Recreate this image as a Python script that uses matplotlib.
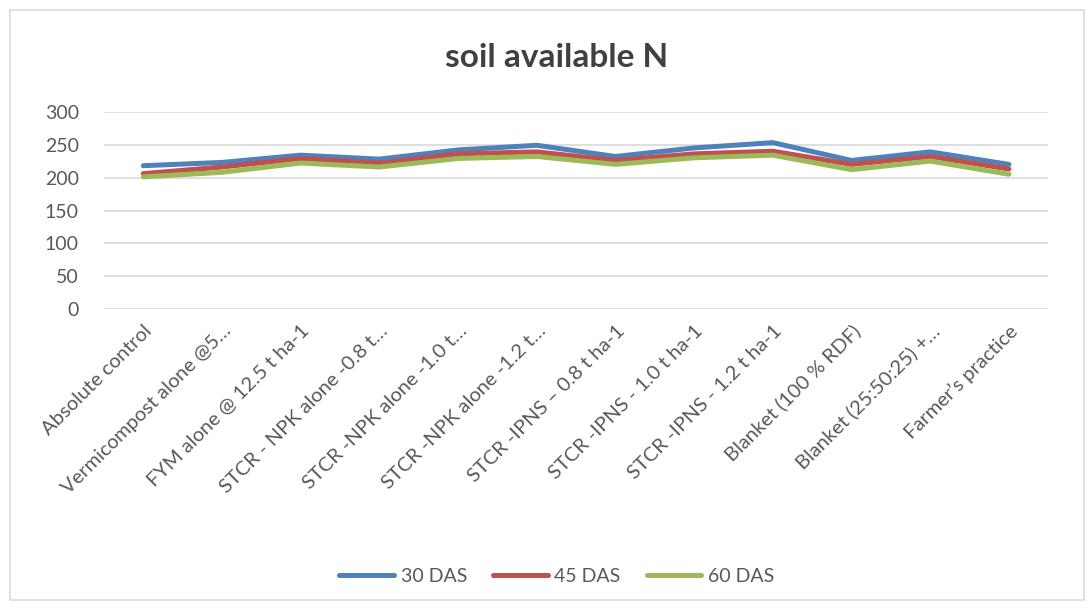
import matplotlib
matplotlib.use("Agg")
import matplotlib.pyplot as plt
from matplotlib.patches import Rectangle

plt.rcParams['font.family'] = ['Lato', 'DejaVu Sans']

# data
treatments = ['Absolute control', 'Vermicompost alone @5…', 'FYM alone @ 12.5 t ha-1',
              'STCR - NPK alone -0.8 t…', 'STCR -NPK alone -1.0 t…', 'STCR -NPK alone -1.2 t…',
              'STCR -IPNS – 0.8 t ha-1', 'STCR -IPNS - 1.0 t ha-1', 'STCR -IPNS - 1.2 t ha-1',
              'Blanket (100 % RDF)', 'Blanket (25:50:25) +…', 'Farmer’s practice']
das30 = [218, 223, 234, 228, 242, 249, 232, 245, 253, 226, 239, 220]
das45 = [206, 216, 229, 222, 236, 239, 226, 236, 240, 220, 232, 213]
das60 = [201, 208, 222, 216, 229, 232, 220, 230, 234, 212, 225, 205]

fig = plt.figure(figsize=(10.92, 6.09), dpi=100)
fig.patches.append(Rectangle((0.009, 0.015), 0.984, 0.968, transform=fig.transFigure,
                             fill=False, edgecolor='#d9d9d9', lw=1.2))
ax = fig.add_axes([0.0952, 0.4921, 0.8648, 0.3245])

x = range(len(treatments))
ax.plot(x, das30, color='#4f81bd', lw=3.6, label='30 DAS', solid_capstyle='round')
ax.plot(x, das45, color='#c0504d', lw=3.6, label='45 DAS', solid_capstyle='round')
ax.plot(x, das60, color='#9bbb59', lw=3.6, label='60 DAS', solid_capstyle='round')

ax.set_xlim(-0.5, len(treatments) - 0.5)
ax.set_ylim(0, 300)
ax.set_yticks(range(0, 301, 50))
ax.yaxis.grid(True, color='#d9d9d9', lw=1.2)
ax.set_axisbelow(True)
for s in ax.spines.values():
    s.set_visible(False)
ax.tick_params(axis='both', length=0, labelsize=14, colors='#595959')
ax.tick_params(axis='y', pad=18)
ax.set_xticks(list(x))
ax.set_xticklabels(treatments, rotation=45, ha='right', va='top', rotation_mode='anchor',
                   fontsize=14.5)
ax.tick_params(axis='x', pad=9)

fig.text(0.51, 0.905, 'soil available N', ha='center', va='center',
         fontsize=24, fontweight='bold', color='#404040')

leg = fig.legend(loc='center', bbox_to_anchor=(0.51, 0.053), ncol=3, frameon=False,
                 fontsize=14, handlelength=2.8, columnspacing=1.35, handletextpad=0.35)
for t in leg.get_texts():
    t.set_color('#595959')

fig.savefig('out.png', dpi=100)
